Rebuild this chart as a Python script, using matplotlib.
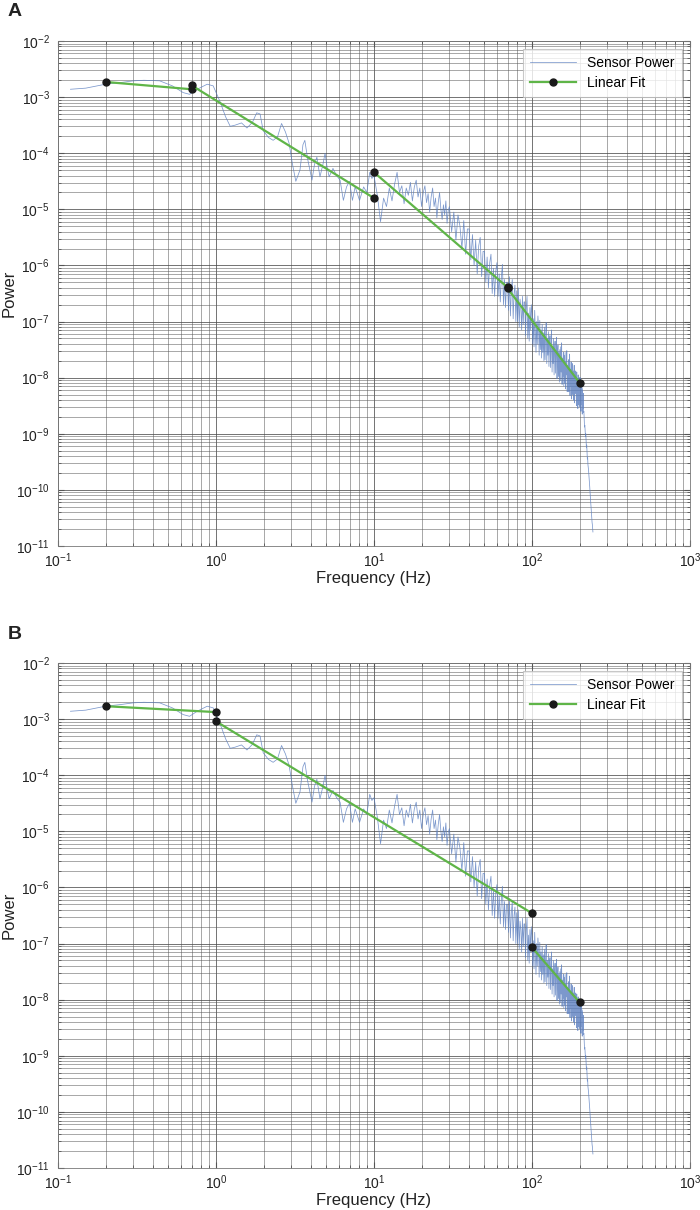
import numpy as np
import matplotlib
matplotlib.use("Agg")
import matplotlib.pyplot as plt
from matplotlib.ticker import LogLocator, NullFormatter, FixedLocator

plt.rcParams['font.family'] = ['Liberation Sans', 'DejaVu Sans']
plt.rcParams['mathtext.default'] = 'regular'

# ---------------- data (log10 power) ----------------
freq_smooth = [0.12, 0.15, 0.2, 0.25, 0.3, 0.35, 0.44, 0.53, 0.62, 0.68, 0.76, 0.88,
               0.96, 1.06, 1.15, 1.23, 1.32, 1.45, 1.57, 1.7, 1.81, 1.9, 1.99, 2.15,
               2.3, 2.45, 2.6, 2.75, 2.9, 3.05, 3.2, 3.4, 3.55, 3.65, 3.8, 4.05, 4.2,
               4.35, 4.55, 4.75, 4.9, 5.05, 5.2, 5.5, 5.8, 6.1, 6.4, 6.7, 7.0, 7.3,
               7.6, 8.1, 8.6, 9.0, 9.4, 9.7]
logp_smooth = [-2.86, -2.84, -2.77, -2.74, -2.71, -2.70, -2.71, -2.80, -2.92, -2.95,
               -2.86, -2.77, -2.80, -3.08, -3.35, -3.52, -3.50, -3.46, -3.55, -3.45,
               -3.28, -3.30, -3.60, -3.72, -3.77, -3.71, -3.47, -3.62, -3.82, -4.20,
               -4.50, -4.30, -3.85, -3.77, -4.10, -4.48, -4.20, -4.07, -4.42, -4.20,
               -4.00, -4.25, -4.42, -4.27, -4.40, -4.48, -4.84, -4.60, -4.50, -4.84,
               -4.60, -4.84, -4.60, -4.70, -4.34, -4.45]

freq_mid = [10.0, 10.5, 11.0, 11.5, 12.0, 12.5, 13.0, 13.5, 14.0, 14.5, 15.0, 15.5,
            16.0, 16.5, 17.0, 17.5, 18.0, 18.5, 19.0, 19.5, 20.0, 20.5, 21.0, 21.5,
            22.0, 22.5, 23.0, 23.5, 24.0, 24.5, 25.0, 25.5, 26.0, 26.5, 27.0, 27.5,
            28.0, 28.5, 29.0, 29.5]
logp_mid = [-4.40, -4.75, -5.22, -4.80, -4.95, -4.62, -4.85, -4.55, -4.34, -4.70,
            -4.58, -4.90, -4.62, -4.75, -4.52, -4.85, -4.60, -4.48, -4.78, -4.62,
            -4.95, -4.70, -4.58, -4.88, -4.72, -5.05, -4.78, -4.62, -4.95, -4.80,
            -5.15, -4.88, -4.70, -5.00, -5.18, -4.92, -5.10, -4.85, -5.25, -5.02]

freq_high = list(range(30, 244))
logp_high = [
    -4.95, -5.40, -5.05, -5.55, -5.10, -5.30, -5.70, -5.20, -5.80, -5.35,
    -5.35, -5.90, -5.45, -6.00, -5.55, -6.15, -5.65, -5.50, -6.20, -5.75,
    -5.75, -6.30, -5.85, -6.40, -5.95, -5.80, -6.50, -6.05, -6.55, -6.10,
    -5.95, -6.55, -6.15, -6.65, -6.20, -5.98, -6.70, -6.25, -6.75, -6.30,
    -6.30, -6.80, -6.20, -6.90, -6.45, -6.25, -6.95, -6.50, -6.35, -7.00,
    -6.45, -7.00, -6.40, -7.10, -6.60, -6.75, -7.15, -6.55, -7.05, -6.65,
    -6.65, -7.25, -6.75, -6.55, -7.30, -6.85, -7.35, -6.75, -7.15, -6.70,
    -6.85, -7.40, -6.95, -7.45, -6.80, -7.15, -7.55, -7.00, -7.40, -6.90,
    -7.10, -7.60, -6.98, -7.50, -7.15, -7.65, -7.05, -7.55, -7.20, -7.70,
    -7.10, -7.68, -7.25, -7.02, -7.75, -7.30, -7.60, -7.18, -7.80, -7.35,
    -7.25, -7.82, -7.40, -7.15, -7.90, -7.45, -7.75, -7.30, -7.95, -7.50,
    -7.35, -7.92, -7.55, -7.28, -8.02, -7.60, -7.42, -7.98, -7.55, -8.08,
    -7.50, -8.05, -7.45, -7.90, -7.38, -8.12, -7.65, -7.98, -7.55, -8.15,
    -7.60, -8.10, -7.55, -8.20, -7.72, -7.95, -7.52, -8.25, -7.78, -8.08,
    -7.68, -8.25, -7.82, -7.58, -8.32, -7.85, -8.15, -7.72, -8.38, -7.92,
    -7.75, -8.30, -7.88, -8.40, -7.95, -7.78, -8.45, -8.00, -8.28, -7.88,
    -7.98, -8.50, -7.90, -8.38, -8.05, -8.55, -7.95, -8.30, -8.48, -8.00,
    -8.05, -8.52, -8.00, -8.42, -8.60, -8.10, -8.48, -8.18, -8.65, -8.22,
    -8.55, -8.28, -8.62,
    -8.60, -8.75, -8.88, -8.85, -8.95, -9.05, -9.00, -9.15, -9.25, -9.20,
    -9.35, -9.45, -9.42, -9.55, -9.60, -9.65, -9.72, -9.80, -9.88, -9.95,
    -10.05, -10.12, -10.20, -10.28, -10.35, -10.42, -10.50, -10.58, -10.62,
    -10.70, -10.75]

# linear fits (segment endpoints): frequency pairs and log10 power pairs
fit_a_freq = [[0.2, 0.7], [0.7, 10.0], [10.0, 70.0], [70.0, 200.0]]
fit_a_logp = [[-2.73, -2.86], [-2.79, -4.80], [-4.34, -6.39], [-6.41, -8.09]]
fit_b_freq = [[0.2, 1.0], [1.0, 100.0], [100.0, 200.0]]
fit_b_logp = [[-2.77, -2.875], [-3.04, -6.46], [-7.07, -8.05]]

x_ticks = [1e-1, 1e0, 1e1, 1e2, 1e3]
y_ticks = [1e-11, 1e-10, 1e-9, 1e-8, 1e-7, 1e-6, 1e-5, 1e-4, 1e-3, 1e-2]
panel_labels = ['A', 'B']

# ---------------- figure ----------------
freq = np.array(freq_smooth + freq_mid + freq_high, dtype=float)
power = 10.0 ** np.array(logp_smooth + logp_mid + logp_high, dtype=float)

fig = plt.figure(figsize=(7.0, 12.1), dpi=100)
W, H = 700.0, 1210.0
ax_rects = [(58, 41, 690, 546), (58, 663, 690, 1168)]
fits = [(fit_a_freq, fit_a_logp), (fit_b_freq, fit_b_logp)]

line_blue = '#5b7fc0'
green = '#5fb548'

for i, (x0, y0, x1, y1) in enumerate(ax_rects):
    aw, ah = x1 - x0, y1 - y0
    ax = fig.add_axes([x0 / W, 1 - y1 / H, aw / W, ah / H])
    ax.set_xscale('log')
    ax.set_yscale('log')

    ax.plot(freq, power, color=line_blue, lw=0.55, alpha=0.8, zorder=3,
            label='Sensor Power')
    fa_f, fa_p = fits[i]
    for k, (ff, pp) in enumerate(zip(fa_f, fa_p)):
        ax.plot(ff, 10.0 ** np.array(pp), color=green, lw=1.6, marker='o',
                markersize=5, markerfacecolor='#1a1a1a',
                markeredgecolor='#1a1a1a', zorder=4,
                label='Linear Fit' if k == 0 else None)

    ax.xaxis.set_major_locator(FixedLocator(x_ticks))
    ax.yaxis.set_major_locator(FixedLocator(y_ticks))
    ax.xaxis.set_minor_locator(LogLocator(base=10, subs=np.arange(2, 10), numticks=50))
    ax.yaxis.set_minor_locator(LogLocator(base=10, subs=np.arange(2, 10), numticks=50))
    ax.xaxis.set_minor_formatter(NullFormatter())
    ax.yaxis.set_minor_formatter(NullFormatter())
    ax.set_xlim(0.1, 1000)
    ax.set_ylim(1e-11, 1e-2)

    ax.grid(True, which='major', color='#4a4a4a', lw=0.6, alpha=0.9)
    ax.grid(True, which='minor', color='#5a5a5a', lw=0.5, alpha=0.75)
    ax.set_axisbelow(True)
    ax.tick_params(which='both', direction='in', top=True, right=True,
                   colors='#555555', labelcolor='#222222', labelsize=10)
    ax.tick_params(which='major', length=4)
    ax.tick_params(which='minor', length=2)
    ax.tick_params(axis='x', which='major', pad=4)
    ax.tick_params(axis='y', which='major', pad=6)
    for s in ax.spines.values():
        s.set_color('#777777')
        s.set_linewidth(0.6)

    ax.set_xlabel('Frequency (Hz)', fontsize=12, color='#222222')
    ax.xaxis.set_label_coords(0.5, -25.0 / ah)
    ax.set_ylabel('Power', fontsize=12, color='#222222')
    ax.yaxis.set_label_coords(-(x0 - 17.0) / aw, 0.5)

    leg = ax.legend(loc='upper right', fontsize=10, frameon=True, fancybox=False,
                    borderaxespad=0.6, handlelength=3.3, borderpad=0.5,
                    labelspacing=0.4)
    leg.get_frame().set_edgecolor('#bbbbbb')
    leg.get_frame().set_linewidth(0.8)

    fig.text(8 / W, 1 - (y0 - 29) / H, panel_labels[i], fontsize=14,
             fontweight='bold', va='center', ha='left', color='#222222')

fig.savefig('out.png', dpi=100)
